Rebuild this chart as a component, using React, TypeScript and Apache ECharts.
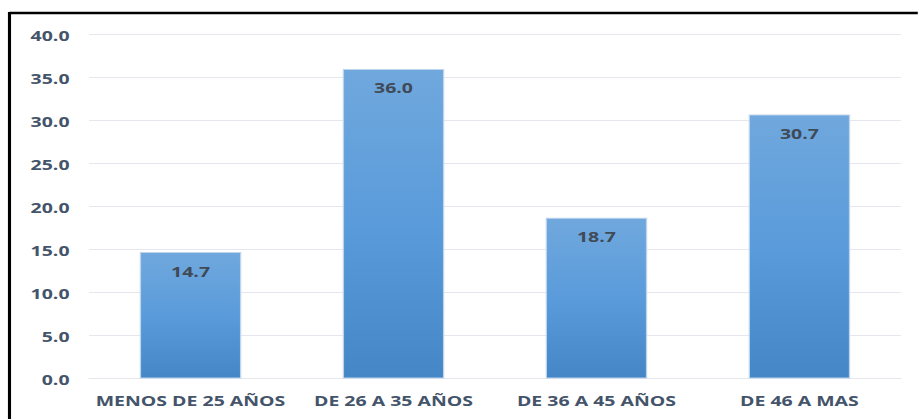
import React, { useEffect, useRef } from "react";
import * as echarts from "echarts";

const categories = ["MENOS DE 25 AÑOS", "DE 26 A 35 AÑOS", "DE 36 A 45 AÑOS", "DE 46 A MAS"];
const values = [14.7, 36.0, 18.7, 30.7];
const yTicks = { min: 0, max: 40, interval: 5 };

const STRETCH = 1.3;
const W = 918;
const H = 419;
const innerW = Math.round(W / STRETCH);

export default function App() {
  const ref = useRef<HTMLDivElement>(null);
  useEffect(() => {
    if (!ref.current) return;
    const chart = echarts.init(ref.current, null, { renderer: "svg" });
    const font = "'Open Sans', 'Noto Sans', sans-serif";
    chart.setOption({
      animation: false,
      backgroundColor: "#ffffff",
      graphic: [
        {
          type: "line",
          shape: { x1: 7.3, y1: 13, x2: innerW + 10, y2: 13 },
          style: { stroke: "#000000", lineWidth: 2.5 },
          silent: true,
        },
        {
          type: "line",
          shape: { x1: 7.3, y1: 12, x2: 7.3, y2: H + 10 },
          style: { stroke: "#000000", lineWidth: 2.4 },
          silent: true,
        },
      ],
      grid: { left: 68.5, right: innerW - 693, top: 34.5, bottom: 40.5, containLabel: false },
      xAxis: {
        type: "category",
        data: categories,
        axisLine: { show: true, lineStyle: { color: "#e6e6ee", width: 1 } },
        axisTick: { show: false },
        axisLabel: {
          color: "#44546a",
          fontFamily: font,
          fontWeight: "bold",
          fontSize: 15,
          margin: 14,
          interval: 0,
        },
      },
      yAxis: {
        type: "value",
        min: yTicks.min,
        max: yTicks.max,
        interval: yTicks.interval,
        axisLine: { show: false },
        axisTick: { show: false },
        splitLine: { lineStyle: { color: "#e6e6ee", width: 1 } },
        axisLabel: {
          color: "#44546a",
          fontFamily: font,
          fontWeight: "bold",
          fontSize: 15,
          margin: 15,
          formatter: (v: number) => v.toFixed(1),
        },
      },
      series: [
        {
          type: "bar",
          data: values,
          barWidth: "50%",
          itemStyle: {
            color: new echarts.graphic.LinearGradient(0, 0, 0, 1, [
              { offset: 0, color: "#70a8dd" },
              { offset: 0.5, color: "#5a9bdb" },
              { offset: 1, color: "#4486c6" },
            ]),
            borderColor: "#bcd4ec",
            borderWidth: 1,
          },
          label: {
            show: true,
            position: "insideTop",
            distance: 11,
            color: "#404a56",
            fontFamily: font,
            fontWeight: "bold",
            fontSize: 15,
            formatter: (p: any) => Number(p.value).toFixed(1),
          },
        },
      ],
    });
    return () => chart.dispose();
  }, []);
  return (
    <div
      style={{
        position: "fixed",
        left: 0,
        top: 0,
        width: W,
        height: H,
        overflow: "hidden",
        background: "#fff",
      }}
    >
      <div
        ref={ref}
        style={{
          width: innerW,
          height: H,
          transform: `scaleX(${STRETCH})`,
          transformOrigin: "0 0",
        }}
      />
    </div>
  );
}
